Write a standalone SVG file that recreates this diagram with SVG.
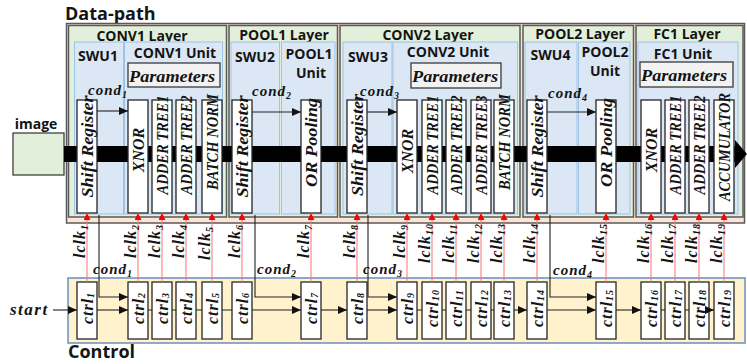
<svg xmlns="http://www.w3.org/2000/svg" width="747" height="364" viewBox="0 0 747 364">
<defs>
<style>
.layer{fill:#e2efda;stroke:#595959;stroke-width:1.5}
.panel{fill:#dbe7f4;stroke:#9dc3e6;stroke-width:1}
.mod{fill:#fff;stroke:#262626;stroke-width:1.3}
.par{fill:#f2f2f2;stroke:#3a3a3a;stroke-width:1.3}
.hd{font-family:"Open Sans","Noto Sans",sans-serif;font-weight:bold;font-size:14px;fill:#141414;text-anchor:middle}
.big{font-family:"Open Sans","Noto Sans",sans-serif;font-weight:bold;font-size:18px;fill:#141414}
.m{font-family:"Liberation Serif","Times New Roman",serif;font-weight:bold;font-style:italic;fill:#141414}
.vt{font-size:16px;text-anchor:middle;dominant-baseline:central}
.lk{font-size:16px;letter-spacing:1px}
.ct{font-size:16px;letter-spacing:1px;text-anchor:middle;dominant-baseline:central}
.cd{font-size:15px;letter-spacing:1px}
.sb{font-size:10px}
.red{stroke:#ff7373;stroke-width:1;fill:none}
.ln{stroke:#222;stroke-width:1.1;fill:none}
.ar{marker-end:url(#ba)}
</style>
<marker id="ba" markerWidth="9" markerHeight="8" refX="9" refY="4" orient="auto" markerUnits="userSpaceOnUse"><path d="M0,0 L9,4 L0,8 z" fill="#111"/></marker>
<marker id="ra" markerWidth="7" markerHeight="7" refX="7" refY="3.5" orient="auto" markerUnits="userSpaceOnUse"><path d="M0,0 L7,3.5 L0,7 z" fill="#ff0000"/></marker>
</defs>

<text class="big" x="65" y="20">Data-path</text>
<text class="big" x="68" y="358">Control</text>

<g id="datapath-frame">
<rect x="66.5" y="23.5" width="678" height="199.5" fill="#fbe5d6" stroke="#595959" stroke-width="1.5"/>
</g>

<g id="conv1-layer">
<rect class="layer" x="68.5" y="25.5" width="158" height="191.5"/>
<text class="hd" x="142" y="41">CONV1 Layer</text>
<rect class="panel" x="74.5" y="42" width="49" height="172"/>
<rect class="panel" x="124.5" y="42" width="98" height="172"/>
<text class="hd" x="98" y="61">SWU1</text>
<text class="hd" x="175" y="58">CONV1 Unit</text>
</g>
<g id="pool1-layer">
<rect class="layer" x="229" y="25.5" width="108.5" height="191.5"/>
<text class="hd" x="284" y="40">POOL1 Layer</text>
<rect class="panel" x="231" y="42" width="48.5" height="172"/>
<rect class="panel" x="281.5" y="42" width="53.5" height="172"/>
<text class="hd" x="255" y="62">SWU2</text>
<text class="hd" x="309" y="59">POOL1</text>
<text class="hd" x="311" y="78">Unit</text>
</g>
<g id="conv2-layer">
<rect class="layer" x="340" y="25.5" width="180" height="191.5"/>
<text class="hd" x="428" y="40">CONV2 Layer</text>
<rect class="panel" x="343" y="42" width="49" height="172"/>
<rect class="panel" x="393" y="42" width="124.5" height="172"/>
<text class="hd" x="368" y="62">SWU3</text>
<text class="hd" x="448" y="57">CONV2 Unit</text>
</g>
<g id="pool2-layer">
<rect class="layer" x="523" y="25.5" width="110.5" height="191.5"/>
<text class="hd" x="580" y="39">POOL2 Layer</text>
<rect class="panel" x="525" y="42" width="52" height="172"/>
<rect class="panel" x="578.5" y="42" width="51.5" height="172"/>
<text class="hd" x="550.5" y="60">SWU4</text>
<text class="hd" x="605" y="57">POOL2</text>
<text class="hd" x="605" y="76">Unit</text>
</g>
<g id="fc1-layer">
<rect class="layer" x="636" y="25.5" width="107" height="191.5"/>
<text class="hd" x="687" y="39">FC1 Layer</text>
<rect class="panel" x="638" y="42" width="100" height="172"/>
<text class="hd" x="683" y="59">FC1 Unit</text>
</g>

<g id="params-conv1"><rect class="par" x="128" y="63" width="92" height="24"/><text class="m" x="129" y="82" font-size="16" textLength="86" lengthAdjust="spacingAndGlyphs">Parameters</text></g>
<g id="params-conv2"><rect class="par" x="411" y="63" width="90" height="25"/><text class="m" x="412" y="82" font-size="16" textLength="86" lengthAdjust="spacingAndGlyphs">Parameters</text></g>
<g id="params-fc1"><rect class="par" x="640" y="62" width="93" height="25"/><text class="m" x="641" y="81" font-size="16" textLength="86" lengthAdjust="spacingAndGlyphs">Parameters</text></g>

<g id="image">
<text class="hd" x="36" y="129" font-size="15">image</text>
<rect x="13" y="133" width="51" height="42" fill="#e2efda" stroke="#404040" stroke-width="1.3"/>
</g>

<g id="bus">
<rect x="64" y="146" width="672" height="16" fill="#000"/>
<polygon points="735,140 747,154 735,168" fill="#000"/>
</g>

<g id="m1"><rect class="mod" x="77" y="100" width="20" height="113"/><text class="m vt" transform="translate(87,146.5) rotate(-90)" textLength="102" lengthAdjust="spacingAndGlyphs">Shift Register</text></g>
<g id="m2"><rect class="mod" x="128" y="100" width="20" height="113"/><text class="m vt" transform="translate(138,150) rotate(-90)">XNOR</text></g>
<g id="m3"><rect class="mod" x="152" y="100" width="20" height="113"/><text class="m vt" transform="translate(162,145) rotate(-90)" textLength="99" lengthAdjust="spacingAndGlyphs">ADDER TREE1</text></g>
<g id="m4"><rect class="mod" x="176" y="100" width="20" height="113"/><text class="m vt" transform="translate(186,145) rotate(-90)" textLength="99" lengthAdjust="spacingAndGlyphs">ADDER TREE2</text></g>
<g id="m5"><rect class="mod" x="202" y="100" width="20" height="113"/><text class="m vt" transform="translate(212,142) rotate(-90)" textLength="96" lengthAdjust="spacingAndGlyphs">BATCH NORM</text></g>
<g id="m6"><rect class="mod" x="232" y="100" width="20" height="113"/><text class="m vt" transform="translate(242,146.5) rotate(-90)" textLength="102" lengthAdjust="spacingAndGlyphs">Shift Register</text></g>
<g id="m7"><rect class="mod" x="301" y="100" width="20" height="113"/><text class="m vt" transform="translate(311,142.5) rotate(-90)" textLength="89" lengthAdjust="spacingAndGlyphs">OR Pooling</text></g>
<g id="m8"><rect class="mod" x="347" y="100" width="20" height="113"/><text class="m vt" transform="translate(357,145) rotate(-90)" textLength="102" lengthAdjust="spacingAndGlyphs">Shift Register</text></g>
<g id="m9"><rect class="mod" x="397" y="100" width="20" height="113"/><text class="m vt" transform="translate(407,151) rotate(-90)">XNOR</text></g>
<g id="m10"><rect class="mod" x="422" y="100" width="20" height="113"/><text class="m vt" transform="translate(432,145) rotate(-90)" textLength="99" lengthAdjust="spacingAndGlyphs">ADDER TREE1</text></g>
<g id="m11"><rect class="mod" x="446" y="100" width="20" height="113"/><text class="m vt" transform="translate(456,145) rotate(-90)" textLength="99" lengthAdjust="spacingAndGlyphs">ADDER TREE2</text></g>
<g id="m12"><rect class="mod" x="471" y="100" width="20" height="113"/><text class="m vt" transform="translate(481,145) rotate(-90)" textLength="99" lengthAdjust="spacingAndGlyphs">ADDER TREE3</text></g>
<g id="m13"><rect class="mod" x="494" y="100" width="20" height="113"/><text class="m vt" transform="translate(504,142) rotate(-90)" textLength="96" lengthAdjust="spacingAndGlyphs">BATCH NORM</text></g>
<g id="m14"><rect class="mod" x="527" y="100" width="20" height="113"/><text class="m vt" transform="translate(537,146.5) rotate(-90)" textLength="102" lengthAdjust="spacingAndGlyphs">Shift Register</text></g>
<g id="m15"><rect class="mod" x="596" y="100" width="20" height="113"/><text class="m vt" transform="translate(606,142.5) rotate(-90)" textLength="89" lengthAdjust="spacingAndGlyphs">OR Pooling</text></g>
<g id="m16"><rect class="mod" x="641" y="100" width="20" height="113"/><text class="m vt" transform="translate(651,150) rotate(-90)">XNOR</text></g>
<g id="m17"><rect class="mod" x="665" y="100" width="20" height="113"/><text class="m vt" transform="translate(675,145) rotate(-90)" textLength="99" lengthAdjust="spacingAndGlyphs">ADDER TREE1</text></g>
<g id="m18"><rect class="mod" x="689" y="100" width="20" height="113"/><text class="m vt" transform="translate(699,145) rotate(-90)" textLength="99" lengthAdjust="spacingAndGlyphs">ADDER TREE2</text></g>
<g id="m19"><rect class="mod" x="714" y="100" width="20" height="113"/><text class="m vt" transform="translate(724,147) rotate(-90)" textLength="108" lengthAdjust="spacingAndGlyphs">ACCUMULATOR</text></g>

<g id="control-frame">
<rect x="68" y="278" width="677" height="65" fill="#fff2cc" stroke="#6c8ebf" stroke-width="1.5"/>
</g>

<g id="ctrl-nodes">
<g id="c1"><rect class="mod" x="77" y="282" width="20" height="57"/><text class="m ct" transform="translate(87,308) rotate(-90)">ctrl<tspan class="sb" dy="3">1</tspan></text></g>
<g id="c2"><rect class="mod" x="128" y="282" width="20" height="57"/><text class="m ct" transform="translate(138,308) rotate(-90)">ctrl<tspan class="sb" dy="3">2</tspan></text></g>
<g id="c3"><rect class="mod" x="152" y="282" width="20" height="57"/><text class="m ct" transform="translate(162,308) rotate(-90)">ctrl<tspan class="sb" dy="3">3</tspan></text></g>
<g id="c4"><rect class="mod" x="176" y="282" width="20" height="57"/><text class="m ct" transform="translate(186,308) rotate(-90)">ctrl<tspan class="sb" dy="3">4</tspan></text></g>
<g id="c5"><rect class="mod" x="202" y="282" width="20" height="57"/><text class="m ct" transform="translate(212,308) rotate(-90)">ctrl<tspan class="sb" dy="3">5</tspan></text></g>
<g id="c6"><rect class="mod" x="232" y="282" width="20" height="57"/><text class="m ct" transform="translate(242,308) rotate(-90)">ctrl<tspan class="sb" dy="3">6</tspan></text></g>
<g id="c7"><rect class="mod" x="301" y="282" width="20" height="57"/><text class="m ct" transform="translate(311,308) rotate(-90)">ctrl<tspan class="sb" dy="3">7</tspan></text></g>
<g id="c8"><rect class="mod" x="347" y="282" width="20" height="57"/><text class="m ct" transform="translate(357,308) rotate(-90)">ctrl<tspan class="sb" dy="3">8</tspan></text></g>
<g id="c9"><rect class="mod" x="397" y="282" width="20" height="57"/><text class="m ct" transform="translate(407,308) rotate(-90)">ctrl<tspan class="sb" dy="3">9</tspan></text></g>
<g id="c10"><rect class="mod" x="422" y="282" width="20" height="57"/><text class="m ct" transform="translate(432,308) rotate(-90)">ctrl<tspan class="sb" dy="3">10</tspan></text></g>
<g id="c11"><rect class="mod" x="446" y="282" width="20" height="57"/><text class="m ct" transform="translate(456,308) rotate(-90)">ctrl<tspan class="sb" dy="3">11</tspan></text></g>
<g id="c12"><rect class="mod" x="471" y="282" width="20" height="57"/><text class="m ct" transform="translate(481,308) rotate(-90)">ctrl<tspan class="sb" dy="3">12</tspan></text></g>
<g id="c13"><rect class="mod" x="494" y="282" width="20" height="57"/><text class="m ct" transform="translate(504,308) rotate(-90)">ctrl<tspan class="sb" dy="3">13</tspan></text></g>
<g id="c14"><rect class="mod" x="527" y="282" width="20" height="57"/><text class="m ct" transform="translate(537,308) rotate(-90)">ctrl<tspan class="sb" dy="3">14</tspan></text></g>
<g id="c15"><rect class="mod" x="596" y="282" width="20" height="57"/><text class="m ct" transform="translate(606,308) rotate(-90)">ctrl<tspan class="sb" dy="3">15</tspan></text></g>
<g id="c16"><rect class="mod" x="641" y="282" width="20" height="57"/><text class="m ct" transform="translate(651,308) rotate(-90)">ctrl<tspan class="sb" dy="3">16</tspan></text></g>
<g id="c17"><rect class="mod" x="665" y="282" width="20" height="57"/><text class="m ct" transform="translate(675,308) rotate(-90)">ctrl<tspan class="sb" dy="3">17</tspan></text></g>
<g id="c18"><rect class="mod" x="689" y="282" width="20" height="57"/><text class="m ct" transform="translate(699,308) rotate(-90)">ctrl<tspan class="sb" dy="3">18</tspan></text></g>
<g id="c19"><rect class="mod" x="714" y="282" width="20" height="57"/><text class="m ct" transform="translate(724,308) rotate(-90)">ctrl<tspan class="sb" dy="3">19</tspan></text></g>
</g>

<g id="connectors">
<g class="red" marker-end="url(#ra)">
<line x1="87" y1="282" x2="87" y2="213"/><line x1="138" y1="282" x2="138" y2="213"/><line x1="162" y1="282" x2="162" y2="213"/><line x1="186" y1="282" x2="186" y2="213"/><line x1="212" y1="282" x2="212" y2="213"/><line x1="242" y1="282" x2="242" y2="213"/><line x1="311" y1="282" x2="311" y2="213"/><line x1="357" y1="282" x2="357" y2="213"/><line x1="407" y1="282" x2="407" y2="213"/><line x1="432" y1="282" x2="432" y2="213"/><line x1="456" y1="282" x2="456" y2="213"/><line x1="481" y1="282" x2="481" y2="213"/><line x1="504" y1="282" x2="504" y2="213"/><line x1="537" y1="282" x2="537" y2="213"/><line x1="606" y1="282" x2="606" y2="213"/><line x1="651" y1="282" x2="651" y2="213"/><line x1="675" y1="282" x2="675" y2="213"/><line x1="699" y1="282" x2="699" y2="213"/><line x1="724" y1="282" x2="724" y2="213"/>
</g>
<line class="ln ar" x1="97" y1="111" x2="128" y2="111"/>
<line class="ln ar" x1="252" y1="112" x2="301" y2="112"/>
<line class="ln ar" x1="367" y1="112" x2="397" y2="112"/>
<line class="ln ar" x1="547" y1="112" x2="596" y2="112"/>
<path class="ln ar" d="M99,215V297H128"/>
<path class="ln ar" d="M255,215V297H301"/>
<path class="ln ar" d="M368,215V297H397"/>
<path class="ln ar" d="M550,215V297H596"/>
<line class="ln ar" x1="53" y1="310" x2="77" y2="310"/>
<line class="ln ar" x1="97" y1="310" x2="128" y2="310"/>
<path class="ln" d="M148,310H152M172,310H176M196,310H202M222,310H232M417,310H422M442,310H446M466,310H471M491,310H494M661,310H665M685,310H689"/>
<line class="ln ar" x1="252" y1="310" x2="301" y2="310"/>
<line class="ln ar" x1="321" y1="310" x2="347" y2="310"/>
<line class="ln ar" x1="367" y1="310" x2="397" y2="310"/>
<line class="ln ar" x1="514" y1="310" x2="527" y2="310"/>
<line class="ln ar" x1="547" y1="310" x2="596" y2="310"/>
<line class="ln ar" x1="616" y1="310" x2="641" y2="310"/>
<line class="ln ar" x1="709" y1="310" x2="714" y2="310"/>
</g>

<g id="labels">
<text class="m cd" x="88" y="95">cond<tspan class="sb" dy="3">1</tspan></text>
<text class="m cd" x="252" y="96">cond<tspan class="sb" dy="3">2</tspan></text>
<text class="m cd" x="360" y="96">cond<tspan class="sb" dy="3">3</tspan></text>
<text class="m cd" x="548" y="98">cond<tspan class="sb" dy="3">4</tspan></text>
<text class="m cd" x="93" y="274">cond<tspan class="sb" dy="3">1</tspan></text>
<text class="m cd" x="257" y="274">cond<tspan class="sb" dy="3">2</tspan></text>
<text class="m cd" x="363" y="274">cond<tspan class="sb" dy="3">3</tspan></text>
<text class="m cd" x="553" y="275">cond<tspan class="sb" dy="3">4</tspan></text>
<text class="m" x="10" y="315" font-size="17" letter-spacing="1.5">start</text>
<text class="m lk" transform="translate(85,258) rotate(-90)">lclk<tspan class="sb" dy="3">1</tspan></text>
<text class="m lk" transform="translate(136,258) rotate(-90)">lclk<tspan class="sb" dy="3">2</tspan></text>
<text class="m lk" transform="translate(160,258) rotate(-90)">lclk<tspan class="sb" dy="3">3</tspan></text>
<text class="m lk" transform="translate(184,258) rotate(-90)">lclk<tspan class="sb" dy="3">4</tspan></text>
<text class="m lk" transform="translate(210,260) rotate(-90)">lclk<tspan class="sb" dy="3">5</tspan></text>
<text class="m lk" transform="translate(240,258) rotate(-90)">lclk<tspan class="sb" dy="3">6</tspan></text>
<text class="m lk" transform="translate(309,258) rotate(-90)">lclk<tspan class="sb" dy="3">7</tspan></text>
<text class="m lk" transform="translate(355,258) rotate(-90)">lclk<tspan class="sb" dy="3">8</tspan></text>
<text class="m lk" transform="translate(405,258) rotate(-90)">lclk<tspan class="sb" dy="3">9</tspan></text>
<text class="m lk" transform="translate(430,263) rotate(-90)">lclk<tspan class="sb" dy="3">10</tspan></text>
<text class="m lk" transform="translate(454,263) rotate(-90)">lclk<tspan class="sb" dy="3">11</tspan></text>
<text class="m lk" transform="translate(479,263) rotate(-90)">lclk<tspan class="sb" dy="3">12</tspan></text>
<text class="m lk" transform="translate(502,263) rotate(-90)">lclk<tspan class="sb" dy="3">13</tspan></text>
<text class="m lk" transform="translate(535,263) rotate(-90)">lclk<tspan class="sb" dy="3">14</tspan></text>
<text class="m lk" transform="translate(604,263) rotate(-90)">lclk<tspan class="sb" dy="3">15</tspan></text>
<text class="m lk" transform="translate(649,263) rotate(-90)">lclk<tspan class="sb" dy="3">16</tspan></text>
<text class="m lk" transform="translate(673,263) rotate(-90)">lclk<tspan class="sb" dy="3">17</tspan></text>
<text class="m lk" transform="translate(697,263) rotate(-90)">lclk<tspan class="sb" dy="3">18</tspan></text>
<text class="m lk" transform="translate(722,263) rotate(-90)">lclk<tspan class="sb" dy="3">19</tspan></text>
</g>
</svg>
